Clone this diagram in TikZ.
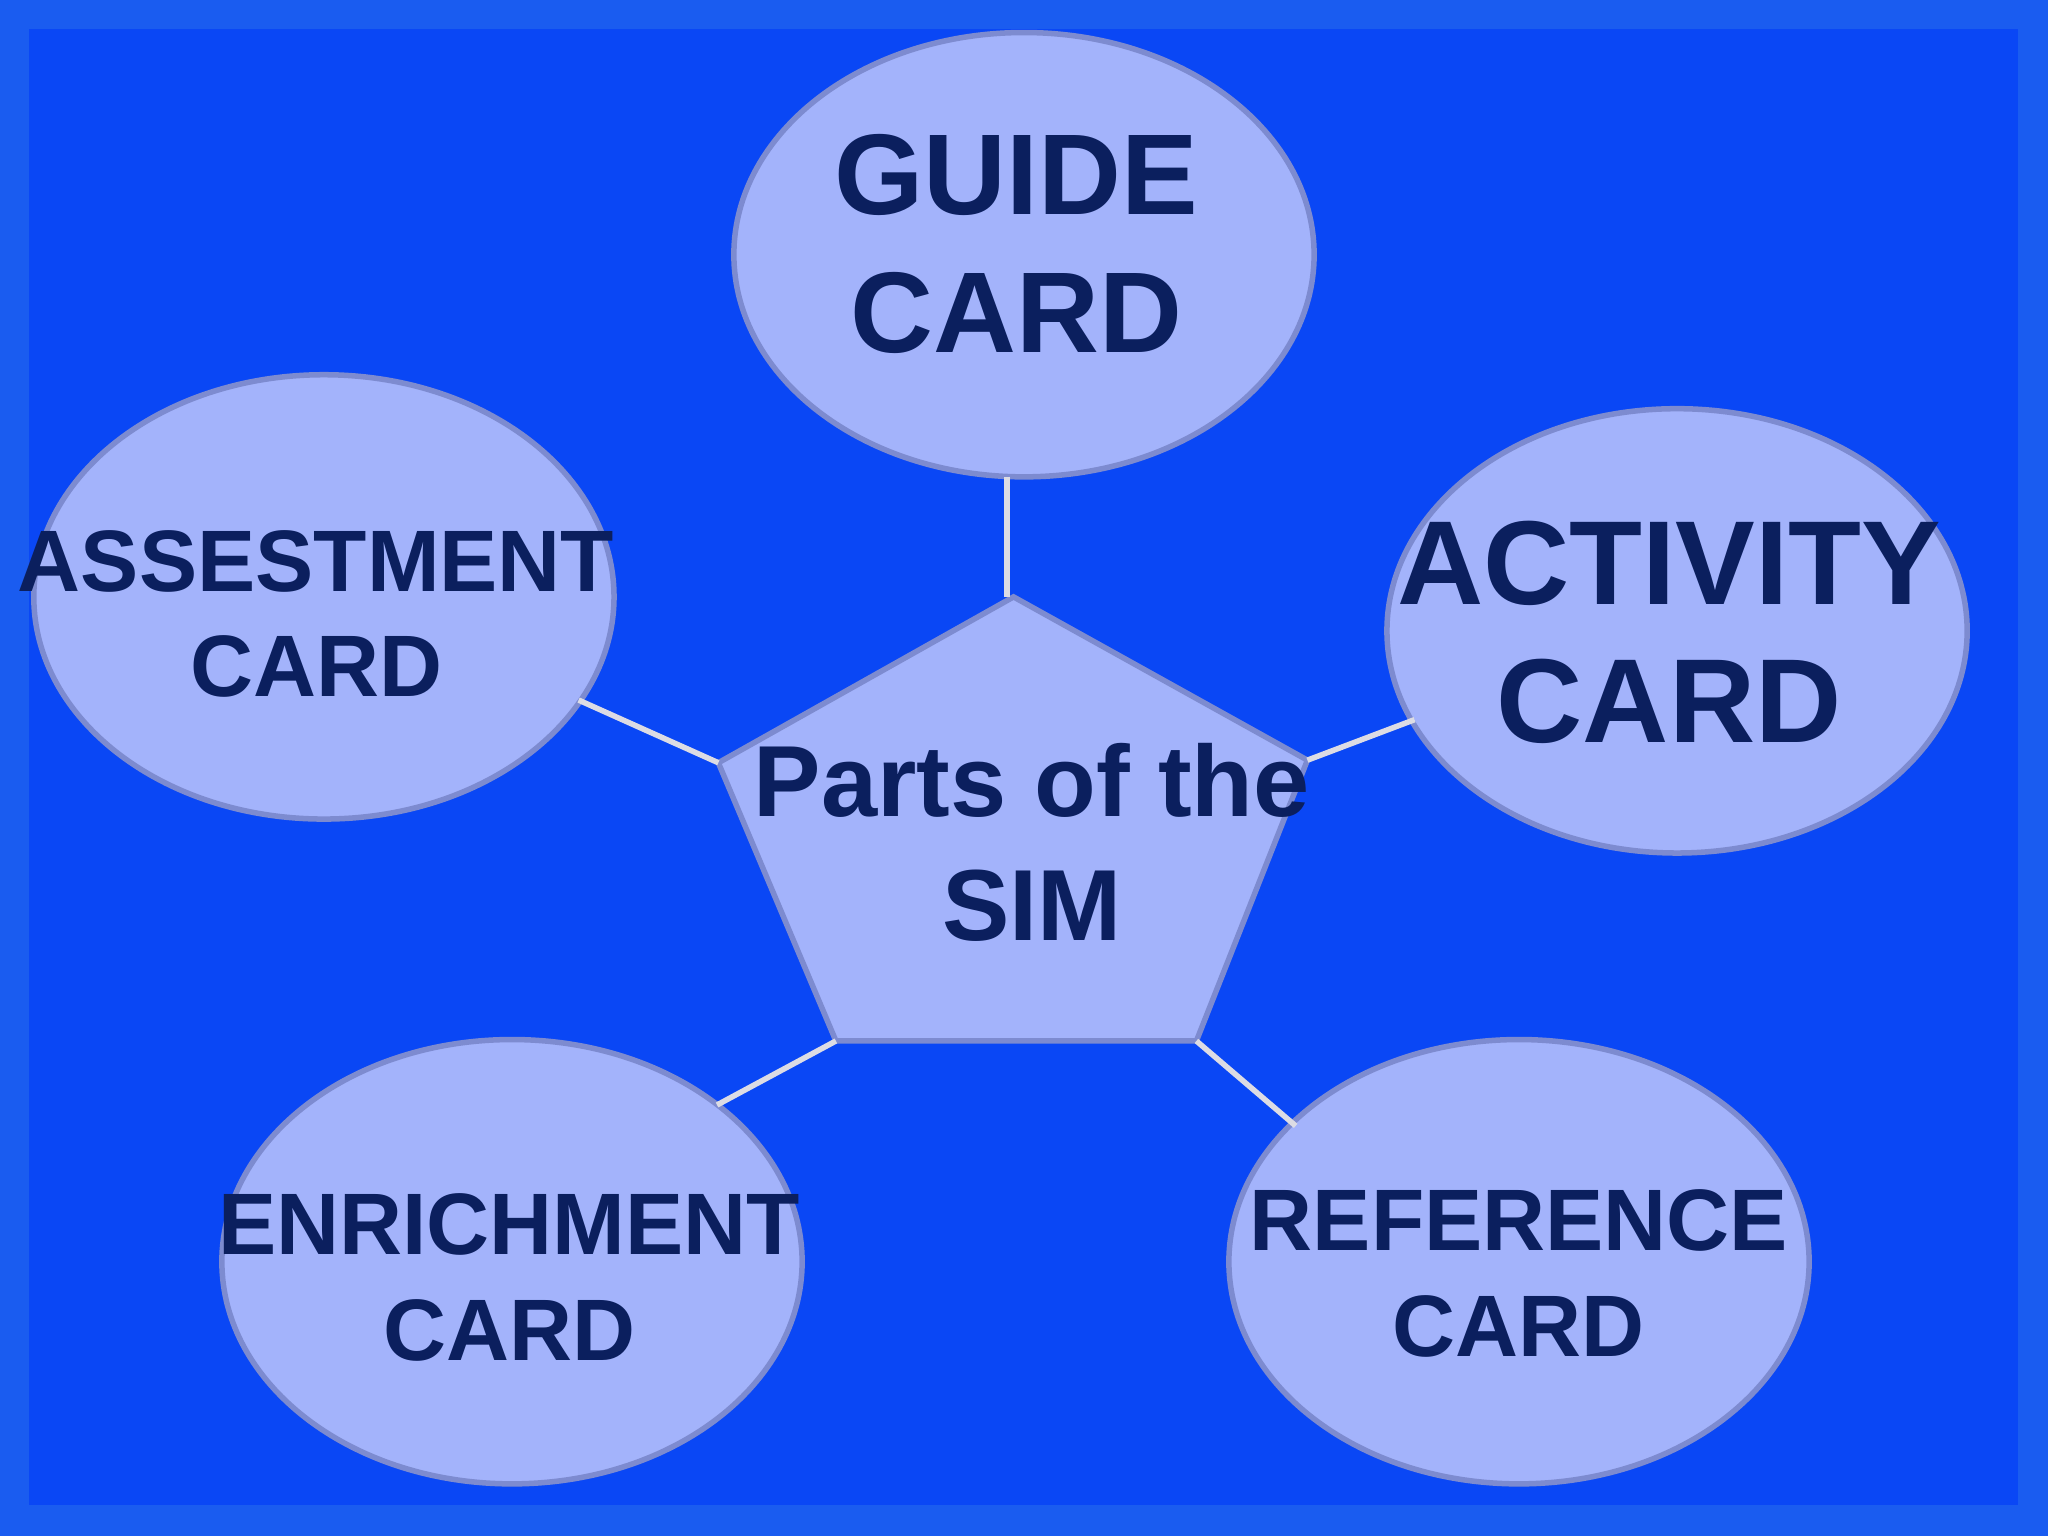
\documentclass[tikz,border=0pt]{standalone}
\usepackage{fontspec}
\setmainfont{Liberation Sans}
\usetikzlibrary{shapes.geometric}
\definecolor{bgout}{HTML}{1A5CF0}
\definecolor{bgin}{HTML}{0A47F5}
\definecolor{cardfill}{HTML}{A3B3FB}
\definecolor{cardedge}{HTML}{7D8BD0}
\definecolor{txt}{HTML}{0B1F5E}
\definecolor{conn}{HTML}{DCDCE4}
\tikzset{
  card/.style={ellipse,draw=cardedge,line width=1.2pt,fill=cardfill,minimum width=4.44cm,minimum height=3.4cm,inner sep=0pt},
  lbl/.style={text=txt,font=\bfseries,align=center},
  link/.style={draw=conn,line width=1.2pt}
}
\begin{document}
\begin{tikzpicture}[x=0.01cm,y=-0.01cm]
\useasboundingbox (0,0) rectangle (1568,1176);
\fill[bgout] (0,0) rectangle (1568,1176);
\fill[bgin] (22,22) rectangle (1545,1152);
\node[card] (guide) at (784,195) {};
\node[card] (assess) at (248,457) {};
\node[card] (activ) at (1284,483) {};
\node[card] (enrich) at (392,966) {};
\node[card] (refer) at (1163,966) {};
\coordinate (p1) at (776,457);
\coordinate (p2) at (1001,582);
\coordinate (p3) at (916,797);
\coordinate (p4) at (640,797);
\coordinate (p5) at (550,584);
\draw[draw=cardedge,line width=1.2pt,fill=cardfill] (p1)--(p2)--(p3)--(p4)--(p5)--cycle;
\coordinate (g1) at (771,365); \coordinate (g2) at (771,457);
\coordinate (a1) at (443,536);
\coordinate (c1) at (1083,551);
\coordinate (e1) at (549,846);
\coordinate (r1) at (992,862);
\draw[link] (g1)--(g2);
\draw[link] (a1)--(p5);
\draw[link] (c1)--(p2);
\draw[link] (e1)--(p4);
\draw[link] (r1)--(p3);
\node[lbl,font=\bfseries\fontsize{25}{30}\selectfont] (tg) at (778,187) {GUIDE\\CARD};
\node[lbl,font=\bfseries\fontsize{19}{23}\selectfont] (ta) at (242,470) {ASSESTMENT\\CARD};
\node[lbl,font=\bfseries\fontsize{26}{30}\selectfont] (tc) at (1278,484) {ACTIVITY\\CARD};
\node[lbl,font=\bfseries\fontsize{19}{23}\selectfont] (te) at (390,978) {ENRICHMENT\\CARD};
\node[lbl,font=\bfseries\fontsize{19}{23}\selectfont] (tr) at (1163,975) {REFERENCE\\CARD};
\node[lbl,font=\bfseries\fontsize{22}{27}\selectfont] (tp) at (790,645) {Parts of the\\SIM};
\end{tikzpicture}
\end{document}
